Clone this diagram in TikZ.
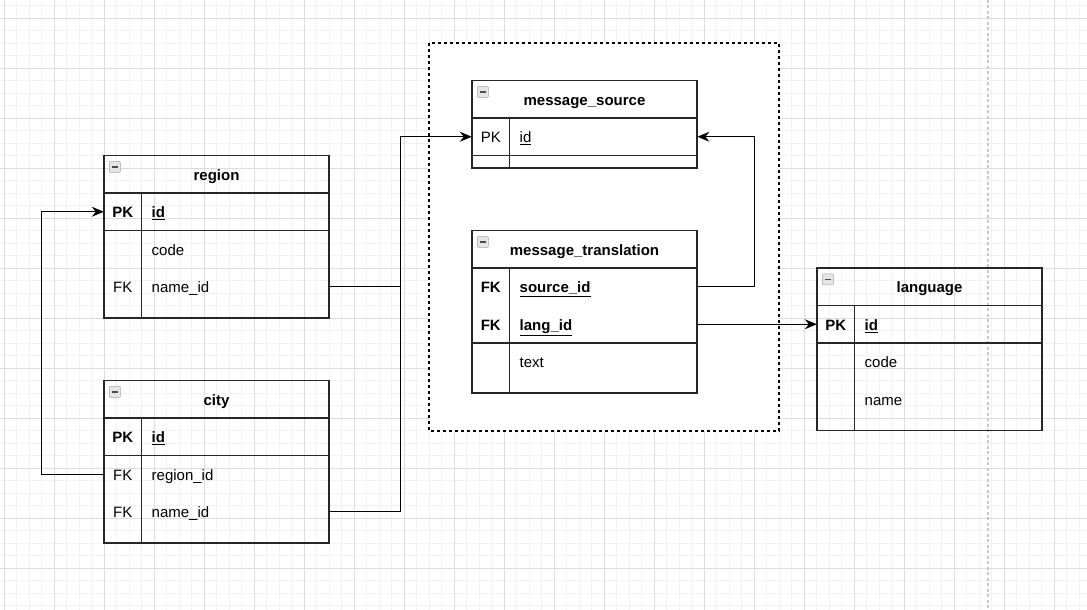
\documentclass[tikz,border=0pt]{standalone}
\usepackage{fontspec}
\setmainfont{Liberation Sans}
\usetikzlibrary{arrows.meta}
\definecolor{gridMinor}{HTML}{F2F2F2}
\definecolor{gridMajor}{HTML}{DCDCDC}
\definecolor{pageLine}{HTML}{C8C8C8}
\definecolor{tblLine}{HTML}{262626}

\begin{document}
\begin{tikzpicture}[x=1pt, y=-1pt,
  every node/.style={font=\fontsize{15}{18}\selectfont, inner sep=0pt,
    text height=12pt, text depth=0pt},
  tbl/.style={draw=tblLine, line width=1.2pt},
  title/.style={tbl, minimum width=225pt, minimum height=37.5pt,
    font=\fontsize{15}{18}\selectfont\bfseries},
  key/.style={minimum width=37.5pt, minimum height=37.5pt},
  bkey/.style={key, font=\fontsize{15}{18}\selectfont\bfseries},
  field/.style={anchor=west, text width=167.5pt, inner xsep=10pt,
    minimum height=37.5pt, align=left},
  bfield/.style={field, font=\fontsize{15}{18}\selectfont\bfseries},
  icon/.style={draw=gray!70, fill=gray!20, rounded corners=1pt,
    minimum width=11pt, minimum height=11pt, text height=1.5pt, text=gray!60!black},
  link/.style={draw=black, line width=1.2pt,
    -{Stealth[length=12pt, width=10pt, inset=4pt]}},
  plain/.style={draw=black, line width=1.2pt},
]

\useasboundingbox (0,0) rectangle (1087,610);

% background grid
\foreach \x in {4,16.5,...,1087} \draw[gridMinor, line width=0.8pt] (\x,0) -- (\x,610);
\foreach \y in {5.5,18,...,610} \draw[gridMinor, line width=0.8pt] (0,\y) -- (1087,\y);
\foreach \x in {4,54,...,1087} \draw[gridMajor, line width=0.8pt] (\x,0) -- (\x,610);
\foreach \y in {18,68,...,610} \draw[gridMajor, line width=0.8pt] (0,\y) -- (1087,\y);
\draw[pageLine, line width=1.8pt, dash pattern=on 3pt off 2.5pt] (988,0) -- (988,610);

% group box
\draw[black, fill=white, line width=1.2pt, dash pattern=on 3pt off 3pt] (429,43) rectangle (779,431);

% region
\node[title] (region) at (216.5,174.25) {region};
\node[icon] (region-icon) at ([xshift=11.5pt, yshift=-12pt]region.north west) {\rule{6pt}{1.5pt}};
\draw[tbl] (104,193) rectangle (329,318);
\draw[tbl] (141.5,193) -- (141.5,318);
\draw[tbl] (104,230.5) -- (329,230.5);
\node[bkey] (region-pk) at (122.75,211.75) {PK};
\node[bfield] (region-id) at (141.5,211.75) {\underline{id}};
\node[field] (region-code) at (141.5,249.25) {code};
\node[key] (region-fk) at (122.75,286.75) {FK};
\node[field] (region-name) at (141.5,286.75) {name\_id};

% city
\node[title] (city) at (216.5,399.25) {city};
\node[icon] (city-icon) at ([xshift=11.5pt, yshift=-12pt]city.north west) {\rule{6pt}{1.5pt}};
\draw[tbl] (104,418) rectangle (329,543);
\draw[tbl] (141.5,418) -- (141.5,543);
\draw[tbl] (104,455.5) -- (329,455.5);
\node[bkey] (city-pk) at (122.75,436.75) {PK};
\node[bfield] (city-id) at (141.5,436.75) {\underline{id}};
\node[key] (city-fk1) at (122.75,474.25) {FK};
\node[field] (city-region) at (141.5,474.25) {region\_id};
\node[key] (city-fk2) at (122.75,511.75) {FK};
\node[field] (city-name) at (141.5,511.75) {name\_id};

% message_source
\node[title] (source) at (584.5,99.25) {message\_source};
\node[icon] (source-icon) at ([xshift=11.5pt, yshift=-12pt]source.north west) {\rule{6pt}{1.5pt}};
\draw[tbl] (472,118) rectangle (697,168);
\draw[tbl] (509.5,118) -- (509.5,168);
\draw[tbl] (472,155.5) -- (697,155.5);
\node[key] (source-pk) at (490.75,136.75) {PK};
\node[field] (source-id) at (509.5,136.75) {\underline{id}};

% message_translation
\node[title] (trans) at (584.5,249.25) {message\_translation};
\node[icon] (trans-icon) at ([xshift=11.5pt, yshift=-12pt]trans.north west) {\rule{6pt}{1.5pt}};
\draw[tbl] (472,268) rectangle (697,393);
\draw[tbl] (509.5,268) -- (509.5,393);
\draw[tbl] (472,343) -- (697,343);
\node[bkey] (trans-fk1) at (490.75,286.75) {FK};
\node[bfield] (trans-source) at (509.5,286.75) {\underline{source\_id}};
\node[bkey] (trans-fk2) at (490.75,324.25) {FK};
\node[bfield] (trans-lang) at (509.5,324.25) {\underline{lang\_id}};
\node[field] (trans-text) at (509.5,361.75) {text};

% language
\node[title] (language) at (929.5,286.75) {language};
\node[icon] (language-icon) at ([xshift=11.5pt, yshift=-12pt]language.north west) {\rule{6pt}{1.5pt}};
\draw[tbl] (817,305.5) rectangle (1042,430.5);
\draw[tbl] (854.5,305.5) -- (854.5,430.5);
\draw[tbl] (817,343) -- (1042,343);
\node[bkey] (language-pk) at (835.75,324.25) {PK};
\node[bfield] (language-id) at (854.5,324.25) {\underline{id}};
\node[field] (language-code) at (854.5,361.75) {code};
\node[field] (language-name) at (854.5,399.25) {name};

% links
\draw[link] (city-fk1.west) -- ++(-62,0) |- (region-pk.west);
\draw[link] (region-name.east) -- ++(71,0) |- (source-pk.west);
\draw[plain] (city-name.east) -- ++(71,0) -- ++(0,-225);
\draw[link] (trans-source.east) -- ++(57,0) |- (source-id.east);
\draw[link] (trans-lang.east) -- (language-pk.west);

\end{tikzpicture}
\end{document}
